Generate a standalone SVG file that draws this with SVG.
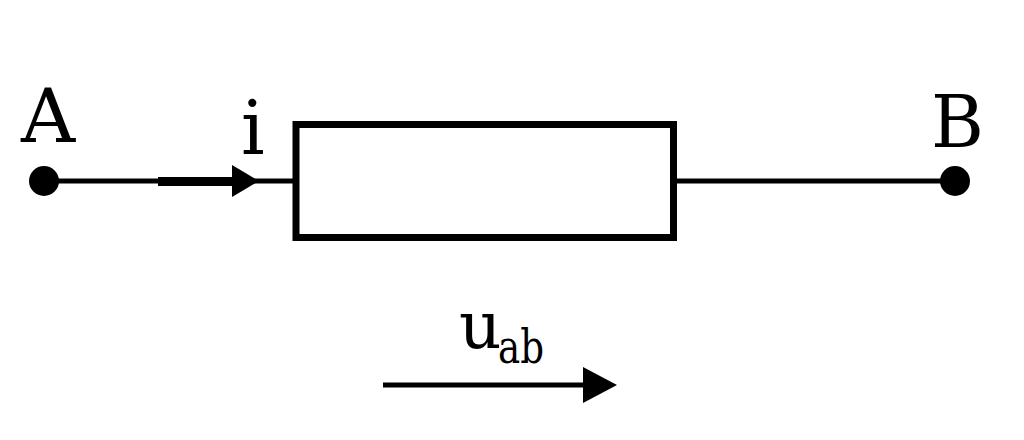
<svg xmlns="http://www.w3.org/2000/svg" width="1024" height="440" viewBox="0 0 1024 440">
<style>
.w{stroke:#000;fill:none;stroke-width:5}
.t{font-family:'DejaVu Serif',serif;fill:#000}
</style>
<rect width="1024" height="440" fill="#fff"/>
<g id="connectors">
<line class="w" x1="44" y1="181" x2="293" y2="181"/>
<line x1="158" y1="181.5" x2="234" y2="181.5" stroke="#000" stroke-width="9"/>
<polygon points="232,165 259,181 232,197" fill="#000"/>
<line class="w" x1="677" y1="181" x2="955" y2="181"/>
<line class="w" x1="383" y1="385" x2="586" y2="385"/>
<polygon points="583,367 617,385 583,403" fill="#000"/>
</g>
<g id="nodeA">
<circle cx="44" cy="181" r="15" fill="#000"/>
<text class="t" x="21" y="142" font-size="75">A</text>
</g>
<g id="nodeB">
<circle cx="955" cy="181" r="15" fill="#000"/>
<text class="t" x="931" y="147" font-size="72">B</text>
</g>
<g id="resistor">
<rect x="296" y="124.5" width="377.5" height="113" fill="none" stroke="#000" stroke-width="7"/>
</g>
<g id="labels">
<text class="t" x="241" y="154" font-size="74">i</text>
<text class="t" x="459" y="348" font-size="66">u</text>
<text class="t" x="498" y="363" font-size="46" textLength="46" lengthAdjust="spacingAndGlyphs">ab</text>
</g>
</svg>
